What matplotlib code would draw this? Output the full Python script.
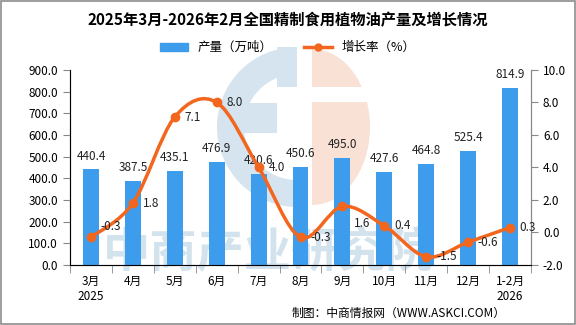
import numpy as np
import matplotlib
matplotlib.use('Agg')
import matplotlib.pyplot as plt
from matplotlib.path import Path
from matplotlib.patches import PathPatch, Rectangle, Wedge, Polygon
from matplotlib.lines import Line2D

plt.rcParams['font.family'] = ['Noto Sans CJK SC', 'DejaVu Sans']

# data
months = ['3月\n2025', '4月', '5月', '6月', '7月', '8月', '9月', '10月', '11月', '12月', '1-2月\n2026']
output = [440.4, 387.5, 435.1, 476.9, 420.6, 450.6, 495.0, 427.6, 464.8, 525.4, 814.9]
growth = [-0.3, 1.8, 7.1, 8.0, 4.0, -0.3, 1.6, 0.4, -1.5, -0.6, 0.3]

# label nudges for the growth labels (points), default is right of the marker
nudge = {0: (7, 8), 6: (8, -12)}

bar_color = '#3D9DEC'
line_color = '#F2661E'
logo_blue = '#d5e4ee'
logo_peach = '#f9e1d6'

fig = plt.figure(figsize=(5.76, 3.25), dpi=100)
# gray border round the figure
fig.patches.append(Rectangle((0.002, 0.003), 0.996, 0.994, transform=fig.transFigure,
                             fill=False, edgecolor='#8c8c8c', lw=1.2))

# background logo, drawn in pixel units (y up)
bg = fig.add_axes([0, 0, 1, 1], zorder=0)
bg.set_xlim(0, 576)
bg.set_ylim(0, 325)
bg.axis('off')
cx, cy = 297, 198
bg.add_patch(Wedge((cx, cy), 80, 90, 270, width=27, color=logo_blue, lw=0))
bg.add_patch(Rectangle((237, 192), 40, 30, color=logo_blue, lw=0))
bg.add_patch(Rectangle((277, 238), 20, 40, color=logo_blue, lw=0))
ang = np.linspace(-np.pi / 2, np.pi / 2, 60)
half = np.column_stack([312 + 58 * np.cos(ang), cy + 78 * np.sin(ang)])
bg.add_patch(Polygon(half, closed=True, color=logo_peach, lw=0))
bg.add_patch(Rectangle((310, 223), 70, 15, color='white', lw=0))
bg.text(268, 73, '中商产业研究院', fontsize=34, color='#d3e3ee', ha='center',
        va='center', fontweight='bold')

ax = fig.add_axes([0.1215, 0.185, 0.8005, 0.60], zorder=1)
ax.patch.set_visible(False)
x = np.arange(len(months))
ax.bar(x, output, width=0.38, color=bar_color, zorder=2)
for xi, v in zip(x, output):
    ax.annotate('%.1f' % v, (xi, v), xytext=(0, 5), textcoords='offset points',
                ha='center', va='bottom', fontsize=8.5, color='#222222')

ax.set_ylim(0, 900)
ax.set_yticks(np.arange(0, 901, 100))
ax.set_yticklabels(['%.1f' % t for t in np.arange(0, 901, 100)], fontsize=8.5)
ax.set_xlim(-0.5, len(months) - 0.5)
ax.set_xticks(x)
ax.set_xticklabels(months, fontsize=8.5)
ax.tick_params(axis='x', length=0, pad=7)
ax.set_xticks(np.arange(-0.5, len(months), 1), minor=True)
ax.tick_params(axis='x', which='minor', length=6, color='#888888')
ax.tick_params(axis='y', length=5, color='#888888')
ax.spines['top'].set_visible(False)
for s in ['left', 'bottom', 'right']:
    ax.spines[s].set_color('#888888')

ax2 = ax.twinx()
ax2.set_ylim(-2, 10)
ax2.set_yticks(np.arange(-2, 10.1, 2))
ax2.set_yticklabels(['%.1f' % t for t in np.arange(-2, 10.1, 2)], fontsize=8.5)
ax2.tick_params(axis='y', length=5, color='#888888')
ax2.spines['top'].set_visible(False)
ax2.spines['right'].set_color('#888888')

# smoothed line as bezier path through the points (Catmull-Rom style)
pts = np.column_stack([x, growth]).astype(float)
verts = [tuple(pts[0])]
codes = [Path.MOVETO]
t = 1 / 6
for i in range(len(pts) - 1):
    p0 = pts[i - 1] if i > 0 else pts[i]
    p1 = pts[i]
    p2 = pts[i + 1]
    p3 = pts[i + 2] if i + 2 < len(pts) else pts[i + 1]
    c1 = p1 + (p2 - p0) * t
    c2 = p2 - (p3 - p1) * t
    verts += [tuple(c1), tuple(c2), tuple(p2)]
    codes += [Path.CURVE4] * 3
ax2.add_patch(PathPatch(Path(verts, codes), fill=False, edgecolor=line_color, lw=2.5, zorder=3))
ax2.plot(x, growth, 'o', color=line_color, markersize=6, zorder=4)
for i, (xi, v) in enumerate(zip(x, growth)):
    ax2.annotate('%.1f' % v, (xi, v), xytext=nudge.get(i, (7, 0)), textcoords='offset points',
                 ha='left', va='center', fontsize=8.5, color='#222222')

fig.text(0.5, 0.937, '2025年3月-2026年2月全国精制食用植物油产量及增长情况', ha='center',
         va='center', fontsize=11, fontweight='bold')

handles = [Rectangle((0, 0), 1, 1, color=bar_color),
           Line2D([0], [0], color=line_color, lw=2.5, marker='o', markersize=5)]
fig.legend(handles, ['产量（万吨）', '增长率（%）'], loc='center', bbox_to_anchor=(0.5, 0.853),
           ncol=2, frameon=False, fontsize=9, handlelength=2.2, columnspacing=2.5)

fig.text(0.877, 0.037, '制图：中商情报网（WWW.ASKCI.COM）', ha='right', va='center', fontsize=8.5)

fig.savefig('out.png', dpi=100)
